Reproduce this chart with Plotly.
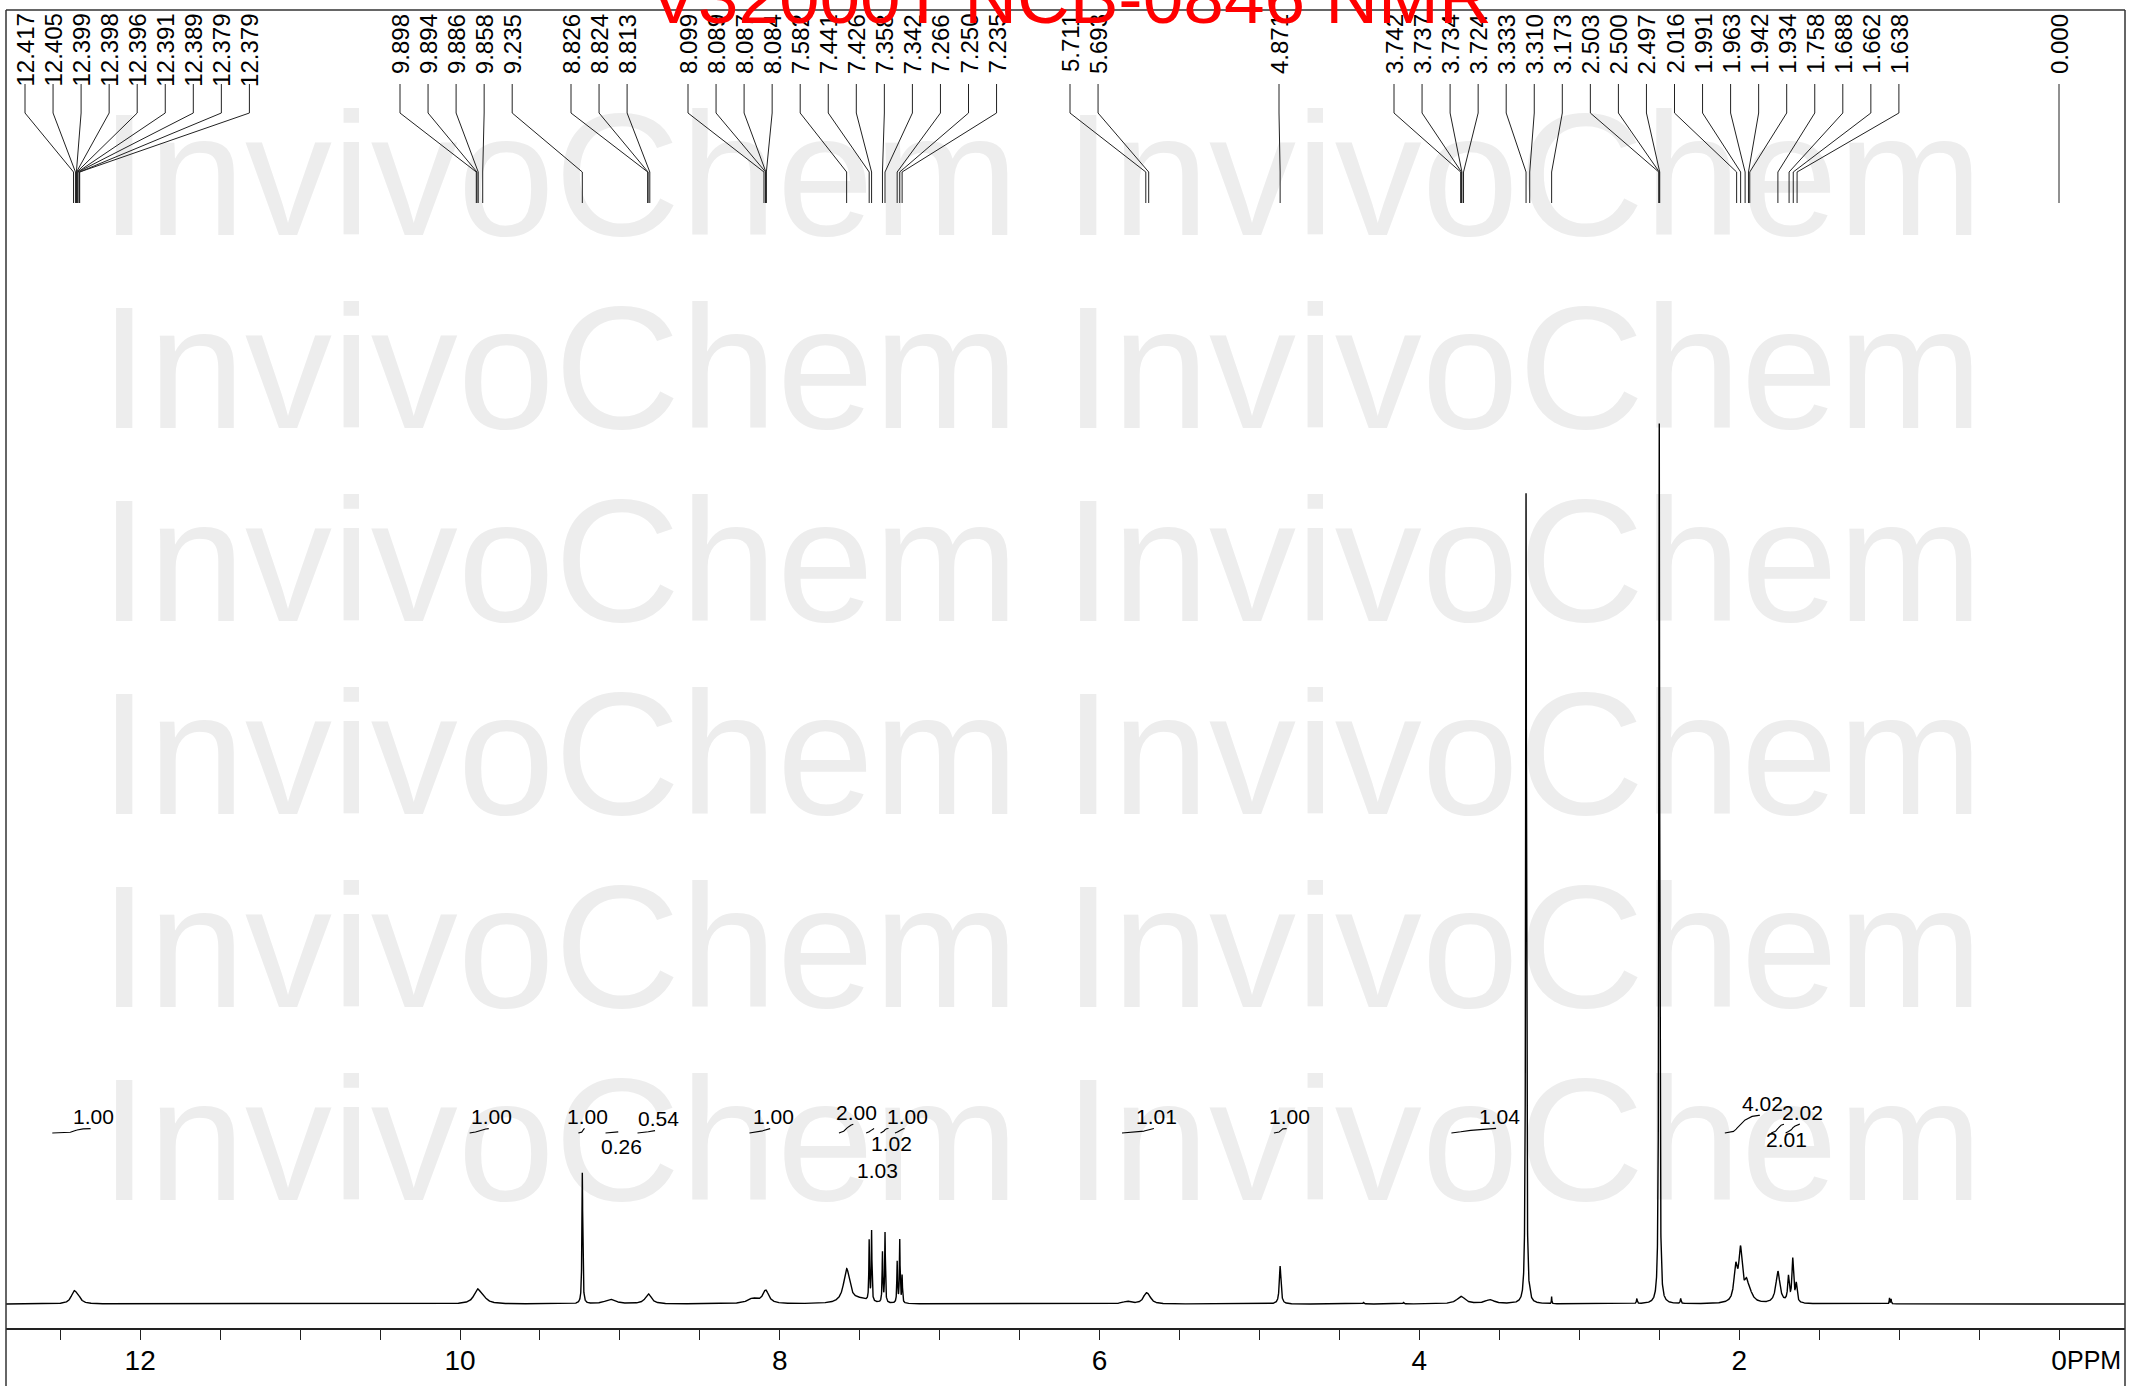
import numpy as np
import plotly.graph_objects as go

# ---------------- data ----------------
TITLE = "V32000T NCB-0846 NMR"
WATERMARK = "InvivoChem"

# peak-pick labels (ppm), left to right
PEAK_LABELS = [
    "12.417", "12.405", "12.399", "12.398", "12.396", "12.391", "12.389", "12.379", "12.379",
    "9.898", "9.894", "9.886", "9.858", "9.235",
    "8.826", "8.824", "8.813",
    "8.099", "8.089", "8.087", "8.084", "7.582", "7.441", "7.426", "7.358", "7.342",
    "7.266", "7.250", "7.235",
    "5.711", "5.693",
    "4.871",
    "3.742", "3.737", "3.734", "3.724", "3.333", "3.310", "3.173", "2.503", "2.500",
    "2.497", "2.016", "1.991", "1.963", "1.942", "1.934", "1.758", "1.688", "1.662", "1.638",
    "0.000",
]

# spectrum peaks: shift (ppm), height (intensity units), line width (ppm)
SPEC_SHIFT = [12.415, 12.39, 9.892, 9.858, 9.235, 9.06, 8.822, 8.17, 8.088, 7.582, 7.50,
              7.441, 7.426, 7.358, 7.342, 7.266, 7.250, 7.235, 5.83, 5.711, 5.693, 4.871,
              4.35, 4.10, 3.74, 3.56, 3.333, 3.310, 3.173, 2.64, 2.500, 2.366, 2.022, 1.992,
              1.955, 1.935, 1.758, 1.692, 1.665, 1.643, 1.060, 1.050]
SPEC_HEIGHT = [11, 6, 13, 5, 131, 4.5, 10, 5, 13, 34, 4,
               60, 70, 50, 70, 41, 63, 27, 2.5, 8, 5, 38,
               1.5, 1.5, 7.5, 4, 811, 8, 7, 5, 882, 5, 33, 50,
               15, 8, 32, 25, 43, 18, 6, 5]
SPEC_FWHM = [0.04, 0.04, 0.05, 0.06, 0.006, 0.08, 0.045, 0.08, 0.045, 0.045, 0.12,
             0.005, 0.005, 0.005, 0.005, 0.005, 0.005, 0.005, 0.06, 0.04, 0.04, 0.012,
             0.008, 0.008, 0.06, 0.07, 0.006, 0.005, 0.003, 0.006, 0.006, 0.006, 0.025, 0.025,
             0.03, 0.05, 0.03, 0.012, 0.012, 0.012, 0.004, 0.004]

# integral regions (ppm) and their values
INT_START = [12.55, 9.94, 9.26, 9.09, 8.89, 8.19, 7.63, 7.46, 7.37, 7.28, 5.86, 4.91, 3.80, 2.09, 1.80, 1.71]
INT_END = [12.31, 9.82, 9.22, 9.01, 8.78, 8.06, 7.54, 7.41, 7.32, 7.22, 5.66, 4.83, 3.52, 1.87, 1.72, 1.62]
INT_VALUE = ["1.00", "1.00", "1.00", "0.26", "0.54", "1.00", "2.00", "1.03", "1.02", "1.00",
             "1.01", "1.00", "1.04", "4.02", "2.01", "2.02"]

TICK_LABELS = [12, 10, 8, 6, 4, 2, 0]

# ---------------- layout (pixels) ----------------
W, H = 2134, 1386
PLOT_L, PLOT_R, PLOT_T, PLOT_B = 6, 2125, 10, 1328
ZERO_PX = 2059.0
PX_PER_PPM = 159.9
BASE_PY = 1304

LABEL_GROUP_SIZES = [9, 5, 3, 12, 2, 1, 19, 1]
LABEL_GROUP_START_PX = [25, 400, 571, 688, 1070, 1279, 1394, 2059]
LABEL_STEP_PX = 28.05


def px2ppm(px):
    return (ZERO_PX - px) / PX_PER_PPM


def py2y(py):
    return BASE_PY - py


def py2paper(py):
    return (PLOT_B - py) / (PLOT_B - PLOT_T)


X_LEFT, X_RIGHT = px2ppm(PLOT_L), px2ppm(PLOT_R)

# ---------------- spectrum ----------------
grid = np.arange(X_LEFT + 0.005, X_RIGHT - 0.005, -0.0004)
spec = np.zeros_like(grid)
for s, h, w in zip(SPEC_SHIFT, SPEC_HEIGHT, SPEC_FWHM):
    g = w / 2.0
    spec += h * g * g / ((grid - s) ** 2 + g * g)

fig = go.Figure()

# watermark (behind everything)
wm_x, wm_y = [], []
for r in range(7):
    baseline = 235 + 193 * r
    for col_px in (100, 1064):
        wm_x.append(px2ppm(col_px))
        wm_y.append(py2y(baseline - 0.25 * 174))
fig.add_trace(go.Scatter(
    x=wm_x, y=wm_y, mode="text", text=[WATERMARK] * len(wm_x),
    textposition="middle right", cliponaxis=False, hoverinfo="skip",
    textfont=dict(family="Liberation Sans, Arial, sans-serif", size=174, color="#ededed"),
    showlegend=False,
))

fig.add_trace(go.Scatter(
    x=grid, y=spec, mode="lines", line=dict(color="#000000", width=1.4),
    hoverinfo="skip", showlegend=False,
))

# ---------------- integrals ----------------
INT_BASE_PY = 1133
INT_SCALE = 4.4
annotations = []
label_info = []
for s, e, v in zip(INT_START, INT_END, INT_VALUE):
    m = (grid <= s) & (grid >= e)
    xs = grid[m]
    cum = np.cumsum(spec[m])
    F = cum / cum[-1]
    val = float(v)
    ys = py2y(INT_BASE_PY) + val * INT_SCALE * F
    fig.add_trace(go.Scatter(x=xs, y=ys, mode="lines", line=dict(color="#000000", width=1.1),
                             hoverinfo="skip", showlegend=False))
    end_px = ZERO_PX - e * PX_PER_PPM
    label_info.append((end_px + 3, val, v, e))

# assign rows right-to-left
rows_used = {}
half_w = 19
assigned = [None] * len(label_info)
for idx in sorted(range(len(label_info)), key=lambda i: -label_info[i][0]):
    cx = label_info[idx][0]
    row = 0
    while True:
        ok = all(abs(cx - ox) >= 2 * half_w for ox in rows_used.get(row, []))
        if ok:
            break
        row += 1
    rows_used.setdefault(row, []).append(cx)
    assigned[idx] = row

for (cx, val, txt, e), row in zip(label_info, assigned):
    end_py = INT_BASE_PY - val * INT_SCALE
    cy = end_py - 12 + 27 * row
    annotations.append(dict(
        x=px2ppm(cx), y=py2y(cy), xref="x", yref="y", text=txt, showarrow=False,
        xanchor="center", yanchor="middle",
        font=dict(family="Liberation Sans, Arial, sans-serif", size=21, color="#000000"),
    ))

# ---------------- peak labels ----------------
shapes = []
slots = []
for n, start in zip(LABEL_GROUP_SIZES, LABEL_GROUP_START_PX):
    for k in range(n):
        slots.append(start + k * LABEL_STEP_PX)

for lab, slot_px in zip(PEAK_LABELS, slots):
    ppm = float(lab)
    sx = px2ppm(slot_px)
    path = "M {a},{y0} L {a},{y1} L {b},{y2} L {b},{y3}".format(
        a=sx, b=ppm, y0=py2paper(84), y1=py2paper(113), y2=py2paper(172), y3=py2paper(203))
    shapes.append(dict(type="path", path=path, xref="x", yref="paper",
                       line=dict(color="#222222", width=1)))
    annotations.append(dict(
        x=sx, y=py2paper(12), xref="x", yref="paper", text=lab, textangle=-90,
        showarrow=False, xanchor="center", yanchor="top",
        font=dict(family="Liberation Sans, Arial, sans-serif", size=24, color="#000000"),
    ))

# ---------------- frame ----------------
for xp in (0, 1):
    shapes.append(dict(type="line", xref="paper", yref="paper", x0=xp, x1=xp,
                       y0=py2paper(1400), y1=1, line=dict(color="#333333", width=1.5)))
shapes.append(dict(type="line", xref="paper", yref="paper", x0=0, x1=1, y0=1, y1=1,
                   line=dict(color="#333333", width=1.5)))

# title (partly cut by the top of the page)
annotations.append(dict(
    x=(1070 - PLOT_L) / (PLOT_R - PLOT_L), y=py2paper(23 - 0.3465 * 73), xref="paper", yref="paper",
    text=TITLE, showarrow=False, xanchor="center", yanchor="middle",
    font=dict(family="Liberation Sans, Arial, sans-serif", size=73, color="#ff0000"),
))

# PPM unit next to the 0 tick label (same baseline as the tick labels)
annotations.append(dict(
    x=px2ppm(2065), y=py2paper(1369 - 0.3465 * 25), xref="x", yref="paper", text="PPM", showarrow=False,
    xanchor="left", yanchor="middle",
    font=dict(family="Liberation Sans, Arial, sans-serif", size=25, color="#000000"),
))

tickvals = [t / 2 for t in range(0, 26)]
ticktext = [str(int(t)) if (t in TICK_LABELS) else "" for t in tickvals]

fig.update_layout(
    width=W, height=H,
    margin=dict(l=PLOT_L, r=W - PLOT_R, t=PLOT_T, b=H - PLOT_B, pad=0),
    paper_bgcolor="white", plot_bgcolor="white",
    showlegend=False,
    xaxis=dict(range=[X_LEFT, X_RIGHT], showgrid=False, zeroline=False,
               showline=True, linecolor="#222222", linewidth=1.5,
               ticks="outside", ticklen=10, tickwidth=1.3, tickcolor="#222222",
               tickvals=tickvals, ticktext=ticktext, ticklabelstandoff=-3,
               tickfont=dict(family="Liberation Sans, Arial, sans-serif", size=28, color="#000000"),
               fixedrange=True),
    yaxis=dict(range=[py2y(PLOT_B), py2y(PLOT_T)], visible=False, fixedrange=True),
    shapes=shapes,
    annotations=annotations,
)

fig.write_html("out.html", include_plotlyjs=True,
               config={"displayModeBar": False},
               post_script="document.body.style.margin='0';document.body.style.overflow='hidden';")
